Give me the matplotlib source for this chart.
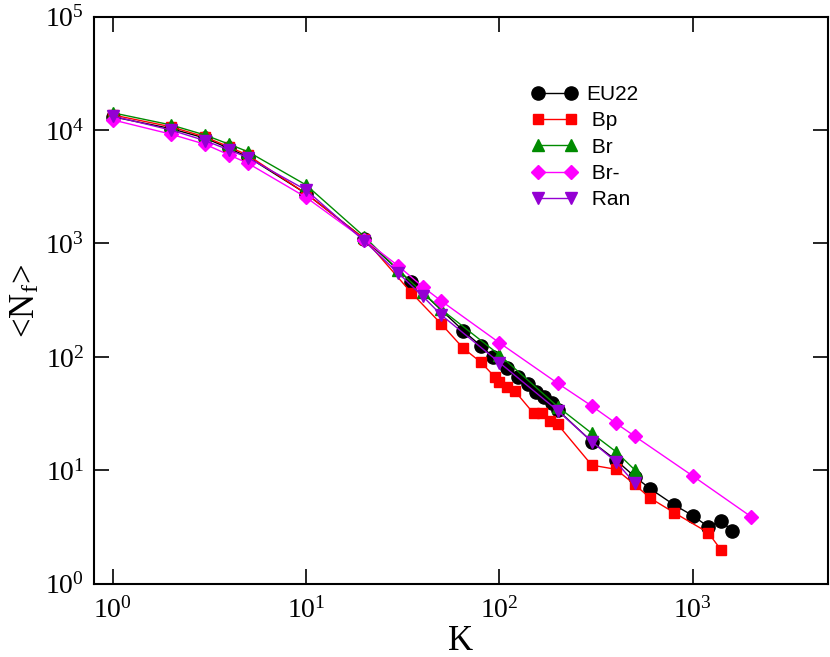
import matplotlib
matplotlib.use("Agg")
import matplotlib.pyplot as plt
from matplotlib.ticker import LogLocator, NullLocator

plt.rcParams['mathtext.fontset'] = 'stix'
plt.rcParams['font.family'] = ['Liberation Serif', 'DejaVu Serif']

# Data
eu22_k = [1, 2, 3, 4, 5, 10, 20, 35, 65, 80, 93, 110, 125, 140, 155, 170, 186, 200,
          300, 400, 500, 600, 800, 1000, 1200, 1400, 1600]
eu22_n = [13100, 10300, 8500, 6900, 5800, 2750, 1100, 457, 170, 125, 100, 80, 67, 58, 49, 44.6, 39.5, 34,
          17.9, 12.3, 8.8, 6.9, 4.95, 3.98, 3.18, 3.6, 2.9]

bp_k = [1, 2, 3, 4, 5, 10, 20, 35, 50, 65, 80, 95, 100, 110, 120, 150, 165, 183, 200,
        300, 400, 500, 600, 800, 1200, 1400]
bp_n = [13600, 10700, 8700, 7100, 6000, 2750, 1100, 368, 195, 119, 90, 66, 60, 54.6, 50, 31.8, 32.2, 27, 25.4,
        11.1, 10.2, 7.5, 5.7, 4.23, 2.82, 1.98]

br_k = [1, 2, 3, 4, 5, 10, 20, 30, 40, 50, 100, 200, 300, 400, 500]
br_n = [14200, 11100, 9050, 7500, 6450, 3280, 1150, 580, 370, 262, 104, 36.4, 21.2, 14.6, 10.1]

brm_k = [1, 2, 3, 4, 5, 10, 20, 30, 40, 50, 100, 200, 300, 400, 500, 1000, 2000]
brm_n = [12300, 9200, 7500, 6030, 5100, 2550, 1080, 633, 416, 311, 133, 58.5, 36.9, 26, 20, 8.9, 3.9]

ran_k = [1, 2, 3, 4, 5, 10, 20, 30, 40, 50, 100, 200, 300, 400, 500]
ran_n = [13300, 10000, 8070, 6670, 5710, 2960, 1050, 546, 344, 234, 89, 33.6, 17.9, 11.9, 7.7]

fig = plt.figure(figsize=(8.3, 6.57), dpi=100)
ax = fig.add_axes([0.1133, 0.1116, 0.8843, 0.863])

lw = 1.0
ax.plot(eu22_k, eu22_n, '-', color='black', marker='o', ms=9.5, lw=lw, label='EU22', zorder=3)
ax.plot(bp_k, bp_n, '-', color='#ff0000', marker='s', ms=7, lw=lw, label=' Bp', zorder=4)
ax.plot(br_k, br_n, '-', color='#008b00', marker='^', ms=9, lw=lw, label=' Br', zorder=5)
ax.plot(brm_k, brm_n, '-', color='#ff00ff', marker='D', ms=7.5, lw=lw, label=' Br-', zorder=6)
ax.plot(ran_k, ran_n, '-', color='#9400d3', marker='v', ms=9, lw=lw, label=' Ran', zorder=7)

ax.set_xscale('log')
ax.set_yscale('log')
ax.set_xlim(0.8, 5000)
ax.set_ylim(1, 1e5)
ax.xaxis.set_major_locator(LogLocator(base=10, numticks=10))
ax.yaxis.set_major_locator(LogLocator(base=10, numticks=10))
ax.xaxis.set_minor_locator(NullLocator())
ax.yaxis.set_minor_locator(NullLocator())
ax.tick_params(which='major', direction='in', length=11, width=1.2, top=True, right=True,
               labelsize=20)
ax.tick_params(axis='x', pad=10)
ax.tick_params(axis='y', pad=7)
for s in ax.spines.values():
    s.set_linewidth(1.5)

ax.set_xlabel('K', fontsize=25, labelpad=1)
ax.set_ylabel(r'<N$_\mathregular{f}$>', fontsize=25, labelpad=2)

leg = ax.legend(loc='upper left', bbox_to_anchor=(0.577, 0.905), frameon=False,
                prop={'family': 'Liberation Sans', 'size': 15}, numpoints=2,
                handlelength=2.15, handletextpad=0.45, labelspacing=0.35, borderpad=0.2)

fig.savefig('out.png', dpi=100)
